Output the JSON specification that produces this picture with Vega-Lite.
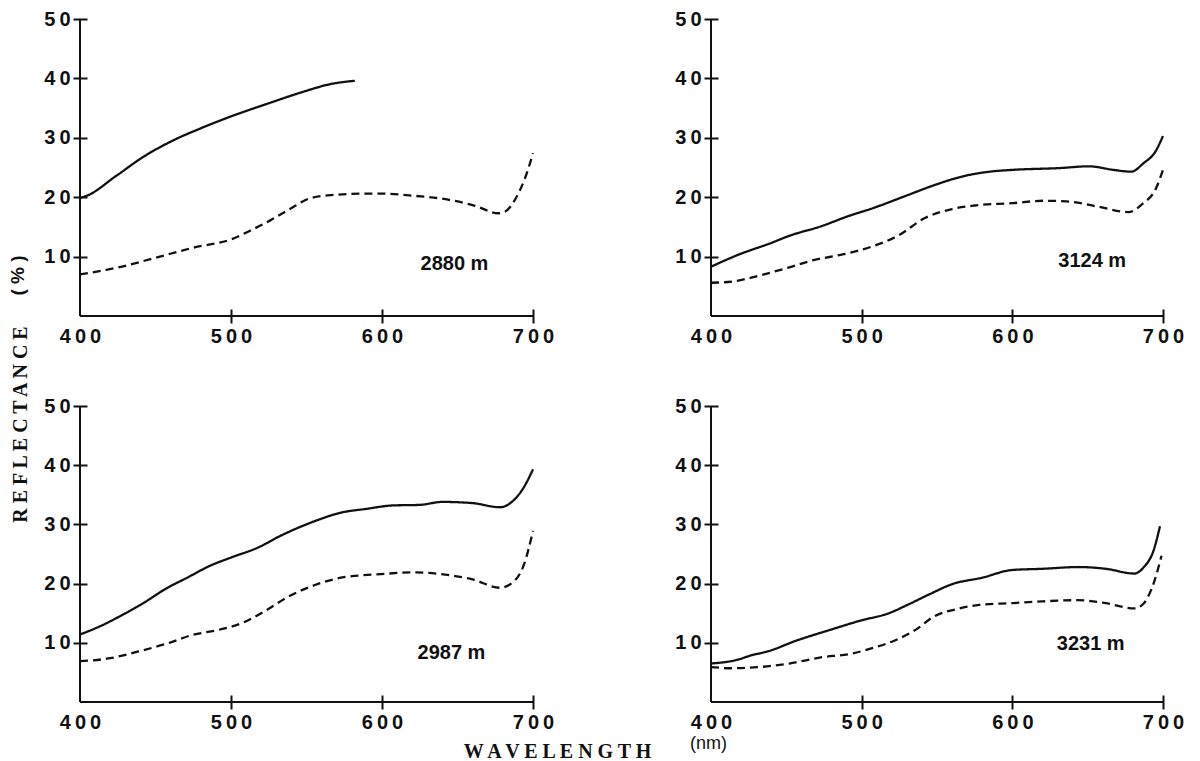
{
  "$schema": "https://vega.github.io/schema/vega-lite/v6.json",
  "background": "white",
  "padding": {"left": 8, "top": 9, "right": 5, "bottom": 5},
  "datasets": {
    "labels": [
      {"depth": "2880 m"}, {"depth": "3124 m"}, {"depth": "2987 m"}, {"depth": "3231 m"}
    ],
    "spectra": [
      {"depth": "2880 m", "curve": "A", "wavelength": 400, "reflectance": 19.9},
      {"depth": "2880 m", "curve": "A", "wavelength": 404, "reflectance": 20.2},
      {"depth": "2880 m", "curve": "A", "wavelength": 424, "reflectance": 23.6},
      {"depth": "2880 m", "curve": "A", "wavelength": 442, "reflectance": 26.8},
      {"depth": "2880 m", "curve": "A", "wavelength": 462, "reflectance": 29.6},
      {"depth": "2880 m", "curve": "A", "wavelength": 480, "reflectance": 31.6},
      {"depth": "2880 m", "curve": "A", "wavelength": 500, "reflectance": 33.6},
      {"depth": "2880 m", "curve": "A", "wavelength": 526, "reflectance": 35.9},
      {"depth": "2880 m", "curve": "A", "wavelength": 546, "reflectance": 37.6},
      {"depth": "2880 m", "curve": "A", "wavelength": 567, "reflectance": 39.1},
      {"depth": "2880 m", "curve": "A", "wavelength": 582, "reflectance": 39.6},
      {"depth": "2880 m", "curve": "B", "wavelength": 400, "reflectance": 7.0},
      {"depth": "2880 m", "curve": "B", "wavelength": 424, "reflectance": 8.1},
      {"depth": "2880 m", "curve": "B", "wavelength": 450, "reflectance": 9.8},
      {"depth": "2880 m", "curve": "B", "wavelength": 475, "reflectance": 11.5},
      {"depth": "2880 m", "curve": "B", "wavelength": 500, "reflectance": 12.9},
      {"depth": "2880 m", "curve": "B", "wavelength": 513, "reflectance": 14.4},
      {"depth": "2880 m", "curve": "B", "wavelength": 526, "reflectance": 16.1},
      {"depth": "2880 m", "curve": "B", "wavelength": 539, "reflectance": 18.0},
      {"depth": "2880 m", "curve": "B", "wavelength": 551, "reflectance": 19.7},
      {"depth": "2880 m", "curve": "B", "wavelength": 564, "reflectance": 20.3},
      {"depth": "2880 m", "curve": "B", "wavelength": 590, "reflectance": 20.6},
      {"depth": "2880 m", "curve": "B", "wavelength": 600, "reflectance": 20.6},
      {"depth": "2880 m", "curve": "B", "wavelength": 618, "reflectance": 20.3},
      {"depth": "2880 m", "curve": "B", "wavelength": 641, "reflectance": 19.7},
      {"depth": "2880 m", "curve": "B", "wavelength": 661, "reflectance": 18.6},
      {"depth": "2880 m", "curve": "B", "wavelength": 677, "reflectance": 17.3},
      {"depth": "2880 m", "curve": "B", "wavelength": 681, "reflectance": 17.5},
      {"depth": "2880 m", "curve": "B", "wavelength": 689, "reflectance": 20.0},
      {"depth": "2880 m", "curve": "B", "wavelength": 695, "reflectance": 23.4},
      {"depth": "2880 m", "curve": "B", "wavelength": 700, "reflectance": 27.4},

      {"depth": "3124 m", "curve": "A", "wavelength": 400, "reflectance": 8.3},
      {"depth": "3124 m", "curve": "A", "wavelength": 419, "reflectance": 10.4},
      {"depth": "3124 m", "curve": "A", "wavelength": 440, "reflectance": 12.3},
      {"depth": "3124 m", "curve": "A", "wavelength": 452, "reflectance": 13.5},
      {"depth": "3124 m", "curve": "A", "wavelength": 473, "reflectance": 15.1},
      {"depth": "3124 m", "curve": "A", "wavelength": 491, "reflectance": 16.8},
      {"depth": "3124 m", "curve": "A", "wavelength": 508, "reflectance": 18.2},
      {"depth": "3124 m", "curve": "A", "wavelength": 529, "reflectance": 20.2},
      {"depth": "3124 m", "curve": "A", "wavelength": 549, "reflectance": 22.1},
      {"depth": "3124 m", "curve": "A", "wavelength": 567, "reflectance": 23.5},
      {"depth": "3124 m", "curve": "A", "wavelength": 585, "reflectance": 24.3},
      {"depth": "3124 m", "curve": "A", "wavelength": 600, "reflectance": 24.6},
      {"depth": "3124 m", "curve": "A", "wavelength": 631, "reflectance": 24.9},
      {"depth": "3124 m", "curve": "A", "wavelength": 651, "reflectance": 25.2},
      {"depth": "3124 m", "curve": "A", "wavelength": 667, "reflectance": 24.6},
      {"depth": "3124 m", "curve": "A", "wavelength": 679, "reflectance": 24.3},
      {"depth": "3124 m", "curve": "A", "wavelength": 687, "reflectance": 25.7},
      {"depth": "3124 m", "curve": "A", "wavelength": 695, "reflectance": 27.7},
      {"depth": "3124 m", "curve": "A", "wavelength": 700, "reflectance": 30.3},
      {"depth": "3124 m", "curve": "B", "wavelength": 400, "reflectance": 5.6},
      {"depth": "3124 m", "curve": "B", "wavelength": 414, "reflectance": 5.8},
      {"depth": "3124 m", "curve": "B", "wavelength": 432, "reflectance": 6.8},
      {"depth": "3124 m", "curve": "B", "wavelength": 452, "reflectance": 8.2},
      {"depth": "3124 m", "curve": "B", "wavelength": 468, "reflectance": 9.4},
      {"depth": "3124 m", "curve": "B", "wavelength": 488, "reflectance": 10.4},
      {"depth": "3124 m", "curve": "B", "wavelength": 508, "reflectance": 11.8},
      {"depth": "3124 m", "curve": "B", "wavelength": 524, "reflectance": 13.5},
      {"depth": "3124 m", "curve": "B", "wavelength": 542, "reflectance": 16.5},
      {"depth": "3124 m", "curve": "B", "wavelength": 560, "reflectance": 18.0},
      {"depth": "3124 m", "curve": "B", "wavelength": 575, "reflectance": 18.6},
      {"depth": "3124 m", "curve": "B", "wavelength": 600, "reflectance": 19.0},
      {"depth": "3124 m", "curve": "B", "wavelength": 621, "reflectance": 19.4},
      {"depth": "3124 m", "curve": "B", "wavelength": 636, "reflectance": 19.3},
      {"depth": "3124 m", "curve": "B", "wavelength": 657, "reflectance": 18.4},
      {"depth": "3124 m", "curve": "B", "wavelength": 677, "reflectance": 17.5},
      {"depth": "3124 m", "curve": "B", "wavelength": 687, "reflectance": 19.0},
      {"depth": "3124 m", "curve": "B", "wavelength": 695, "reflectance": 21.3},
      {"depth": "3124 m", "curve": "B", "wavelength": 700, "reflectance": 24.6},

      {"depth": "2987 m", "curve": "A", "wavelength": 400, "reflectance": 11.4},
      {"depth": "2987 m", "curve": "A", "wavelength": 415, "reflectance": 13.0},
      {"depth": "2987 m", "curve": "A", "wavelength": 428, "reflectance": 14.7},
      {"depth": "2987 m", "curve": "A", "wavelength": 440, "reflectance": 16.4},
      {"depth": "2987 m", "curve": "A", "wavelength": 458, "reflectance": 19.3},
      {"depth": "2987 m", "curve": "A", "wavelength": 471, "reflectance": 21.0},
      {"depth": "2987 m", "curve": "A", "wavelength": 486, "reflectance": 23.0},
      {"depth": "2987 m", "curve": "A", "wavelength": 500, "reflectance": 24.4},
      {"depth": "2987 m", "curve": "A", "wavelength": 518, "reflectance": 26.1},
      {"depth": "2987 m", "curve": "A", "wavelength": 533, "reflectance": 28.1},
      {"depth": "2987 m", "curve": "A", "wavelength": 556, "reflectance": 30.6},
      {"depth": "2987 m", "curve": "A", "wavelength": 573, "reflectance": 32.0},
      {"depth": "2987 m", "curve": "A", "wavelength": 589, "reflectance": 32.6},
      {"depth": "2987 m", "curve": "A", "wavelength": 607, "reflectance": 33.2},
      {"depth": "2987 m", "curve": "A", "wavelength": 625, "reflectance": 33.3},
      {"depth": "2987 m", "curve": "A", "wavelength": 640, "reflectance": 33.8},
      {"depth": "2987 m", "curve": "A", "wavelength": 660, "reflectance": 33.6},
      {"depth": "2987 m", "curve": "A", "wavelength": 678, "reflectance": 32.9},
      {"depth": "2987 m", "curve": "A", "wavelength": 686, "reflectance": 33.8},
      {"depth": "2987 m", "curve": "A", "wavelength": 694, "reflectance": 36.3},
      {"depth": "2987 m", "curve": "A", "wavelength": 700, "reflectance": 39.3},
      {"depth": "2987 m", "curve": "B", "wavelength": 400, "reflectance": 6.9},
      {"depth": "2987 m", "curve": "B", "wavelength": 420, "reflectance": 7.4},
      {"depth": "2987 m", "curve": "B", "wavelength": 438, "reflectance": 8.5},
      {"depth": "2987 m", "curve": "B", "wavelength": 458, "reflectance": 9.9},
      {"depth": "2987 m", "curve": "B", "wavelength": 474, "reflectance": 11.3},
      {"depth": "2987 m", "curve": "B", "wavelength": 492, "reflectance": 12.2},
      {"depth": "2987 m", "curve": "B", "wavelength": 507, "reflectance": 13.3},
      {"depth": "2987 m", "curve": "B", "wavelength": 522, "reflectance": 15.3},
      {"depth": "2987 m", "curve": "B", "wavelength": 538, "reflectance": 17.8},
      {"depth": "2987 m", "curve": "B", "wavelength": 556, "reflectance": 19.8},
      {"depth": "2987 m", "curve": "B", "wavelength": 573, "reflectance": 21.0},
      {"depth": "2987 m", "curve": "B", "wavelength": 599, "reflectance": 21.6},
      {"depth": "2987 m", "curve": "B", "wavelength": 622, "reflectance": 21.9},
      {"depth": "2987 m", "curve": "B", "wavelength": 642, "reflectance": 21.5},
      {"depth": "2987 m", "curve": "B", "wavelength": 660, "reflectance": 20.7},
      {"depth": "2987 m", "curve": "B", "wavelength": 678, "reflectance": 19.3},
      {"depth": "2987 m", "curve": "B", "wavelength": 686, "reflectance": 20.1},
      {"depth": "2987 m", "curve": "B", "wavelength": 694, "reflectance": 23.2},
      {"depth": "2987 m", "curve": "B", "wavelength": 700, "reflectance": 28.9},

      {"depth": "3231 m", "curve": "A", "wavelength": 400, "reflectance": 6.5},
      {"depth": "3231 m", "curve": "A", "wavelength": 417, "reflectance": 7.1},
      {"depth": "3231 m", "curve": "A", "wavelength": 427, "reflectance": 7.9},
      {"depth": "3231 m", "curve": "A", "wavelength": 437, "reflectance": 8.5},
      {"depth": "3231 m", "curve": "A", "wavelength": 457, "reflectance": 10.4},
      {"depth": "3231 m", "curve": "A", "wavelength": 478, "reflectance": 12.1},
      {"depth": "3231 m", "curve": "A", "wavelength": 500, "reflectance": 13.8},
      {"depth": "3231 m", "curve": "A", "wavelength": 517, "reflectance": 14.9},
      {"depth": "3231 m", "curve": "A", "wavelength": 532, "reflectance": 16.6},
      {"depth": "3231 m", "curve": "A", "wavelength": 545, "reflectance": 18.2},
      {"depth": "3231 m", "curve": "A", "wavelength": 560, "reflectance": 19.9},
      {"depth": "3231 m", "curve": "A", "wavelength": 580, "reflectance": 21.0},
      {"depth": "3231 m", "curve": "A", "wavelength": 600, "reflectance": 22.3},
      {"depth": "3231 m", "curve": "A", "wavelength": 620, "reflectance": 22.5},
      {"depth": "3231 m", "curve": "A", "wavelength": 644, "reflectance": 22.8},
      {"depth": "3231 m", "curve": "A", "wavelength": 662, "reflectance": 22.5},
      {"depth": "3231 m", "curve": "A", "wavelength": 681, "reflectance": 21.7},
      {"depth": "3231 m", "curve": "A", "wavelength": 687, "reflectance": 22.7},
      {"depth": "3231 m", "curve": "A", "wavelength": 694, "reflectance": 25.8},
      {"depth": "3231 m", "curve": "A", "wavelength": 698, "reflectance": 29.7},
      {"depth": "3231 m", "curve": "B", "wavelength": 400, "reflectance": 5.9},
      {"depth": "3231 m", "curve": "B", "wavelength": 414, "reflectance": 5.7},
      {"depth": "3231 m", "curve": "B", "wavelength": 432, "reflectance": 5.9},
      {"depth": "3231 m", "curve": "B", "wavelength": 452, "reflectance": 6.5},
      {"depth": "3231 m", "curve": "B", "wavelength": 472, "reflectance": 7.5},
      {"depth": "3231 m", "curve": "B", "wavelength": 494, "reflectance": 8.2},
      {"depth": "3231 m", "curve": "B", "wavelength": 507, "reflectance": 9.1},
      {"depth": "3231 m", "curve": "B", "wavelength": 522, "reflectance": 10.4},
      {"depth": "3231 m", "curve": "B", "wavelength": 537, "reflectance": 12.4},
      {"depth": "3231 m", "curve": "B", "wavelength": 547, "reflectance": 14.3},
      {"depth": "3231 m", "curve": "B", "wavelength": 563, "reflectance": 15.7},
      {"depth": "3231 m", "curve": "B", "wavelength": 578, "reflectance": 16.4},
      {"depth": "3231 m", "curve": "B", "wavelength": 600, "reflectance": 16.7},
      {"depth": "3231 m", "curve": "B", "wavelength": 620, "reflectance": 17.0},
      {"depth": "3231 m", "curve": "B", "wavelength": 643, "reflectance": 17.2},
      {"depth": "3231 m", "curve": "B", "wavelength": 662, "reflectance": 16.7},
      {"depth": "3231 m", "curve": "B", "wavelength": 681, "reflectance": 15.8},
      {"depth": "3231 m", "curve": "B", "wavelength": 687, "reflectance": 16.6},
      {"depth": "3231 m", "curve": "B", "wavelength": 694, "reflectance": 20.2},
      {"depth": "3231 m", "curve": "B", "wavelength": 699, "reflectance": 24.7}
    ]
  },
  "config": {
    "view": {"stroke": null},
    "axis": {
      "domain": false, "grid": false, "ticks": true,
      "tickColor": "#111", "tickWidth": 2, "tickSize": 14, "offset": -7,
      "labelFont": "Liberation Sans", "labelFontWeight": "bold", "labelFontSize": 20,
      "labelColor": "#111", "labelPadding": 3, "labelFlush": false, "labelOverlap": false,
      "labelExpr": "join(split(datum.label, ''), '\u2009')",
      "titleColor": "#111"
    },
    "axisX": {"tickOpacity": {"condition": {"test": "datum.value == 400", "value": 0}, "value": 1}},
    "line": {"interpolate": "monotone", "color": "#111", "strokeWidth": 2.3},
    "rule": {"color": "#111", "strokeWidth": 2},
    "text": {"font": "Liberation Sans", "fontWeight": "bold", "fontSize": 20, "color": "#111", "align": "center", "baseline": "middle"}
  },
  "bounds": "flush",
  "columns": 2,
  "spacing": {"row": 90, "column": 178},
  "concat": [
    {
      "width": 453, "height": 297,
      "layer": [
        {
          "data": {"name": "spectra"},
          "transform": [{"filter": {"field": "depth", "equal": "2880 m"}}],
          "mark": "line",
          "encoding": {
            "x": {"field": "wavelength", "type": "quantitative", "scale": {"domain": [400, 700], "nice": false},
                  "axis": {"title": null, "values": [400, 500, 600, 700]}},
            "y": {"field": "reflectance", "type": "quantitative", "scale": {"domain": [0, 50], "nice": false},
                  "axis": {"title": "( % )", "values": [10, 20, 30, 40, 50], "titleFont": "Liberation Sans", "titleFontWeight": "bold", "titleFontSize": 19, "titleX": -70, "titleY": 256, "titleAngle": -90, "titleAlign": "center", "titleBaseline": "middle"}},
            "strokeDash": {"field": "curve", "type": "nominal", "scale": {"domain": ["A", "B"], "range": [[1, 0], [8, 5]]}, "legend": null}
          }
        },
        {"data": {"name": "labels"}, "transform": [{"filter": {"field": "depth", "equal": "2880 m"}}], "mark": "rule", "encoding": {"y": {"datum": 0}}},
        {"data": {"name": "labels"}, "transform": [{"filter": {"field": "depth", "equal": "2880 m"}}], "mark": "rule", "encoding": {"x": {"datum": 400}}},
        {"data": {"name": "labels"}, "transform": [{"filter": {"field": "depth", "equal": "2880 m"}}], "mark": "text",
         "encoding": {"x": {"datum": 648}, "y": {"datum": 8.8}, "text": {"field": "depth"}}}
      ]
    },
    {
      "width": 452, "height": 297,
      "layer": [
        {
          "data": {"name": "spectra"},
          "transform": [{"filter": {"field": "depth", "equal": "3124 m"}}],
          "mark": "line",
          "encoding": {
            "x": {"field": "wavelength", "type": "quantitative", "scale": {"domain": [400, 700], "nice": false},
                  "axis": {"title": null, "values": [400, 500, 600, 700]}},
            "y": {"field": "reflectance", "type": "quantitative", "scale": {"domain": [0, 50], "nice": false},
                  "axis": {"title": null, "values": [10, 20, 30, 40, 50]}},
            "strokeDash": {"field": "curve", "type": "nominal", "scale": {"domain": ["A", "B"], "range": [[1, 0], [8, 5]]}, "legend": null}
          }
        },
        {"data": {"name": "labels"}, "transform": [{"filter": {"field": "depth", "equal": "3124 m"}}], "mark": "rule", "encoding": {"y": {"datum": 0}}},
        {"data": {"name": "labels"}, "transform": [{"filter": {"field": "depth", "equal": "3124 m"}}], "mark": "rule", "encoding": {"x": {"datum": 400}}},
        {"data": {"name": "labels"}, "transform": [{"filter": {"field": "depth", "equal": "3124 m"}}], "mark": "text",
         "encoding": {"x": {"datum": 653}, "y": {"datum": 9.3}, "text": {"field": "depth"}}}
      ]
    },
    {
      "width": 453, "height": 296,
      "layer": [
        {
          "data": {"name": "spectra"},
          "transform": [{"filter": {"field": "depth", "equal": "2987 m"}}],
          "mark": "line",
          "encoding": {
            "x": {"field": "wavelength", "type": "quantitative", "scale": {"domain": [400, 700], "nice": false},
                  "axis": {"title": "W A V E L E N G T H", "values": [400, 500, 600, 700],
                           "titleFont": "Liberation Serif", "titleFontWeight": "bold", "titleFontSize": 20, "titleX": 477, "titleY": 62, "titleAlign": "center", "titleBaseline": "alphabetic"}},
            "y": {"field": "reflectance", "type": "quantitative", "scale": {"domain": [0, 50], "nice": false},
                  "axis": {"title": "R E F L E C T A N C E", "values": [10, 20, 30, 40, 50], "titleFont": "Liberation Serif", "titleFontWeight": "bold", "titleFontSize": 20, "titleX": -67, "titleY": 18, "titleAngle": -90, "titleAlign": "center", "titleBaseline": "middle"}},
            "strokeDash": {"field": "curve", "type": "nominal", "scale": {"domain": ["A", "B"], "range": [[1, 0], [8, 5]]}, "legend": null}
          }
        },
        {"data": {"name": "labels"}, "transform": [{"filter": {"field": "depth", "equal": "2987 m"}}], "mark": "rule", "encoding": {"y": {"datum": 0}}},
        {"data": {"name": "labels"}, "transform": [{"filter": {"field": "depth", "equal": "2987 m"}}], "mark": "rule", "encoding": {"x": {"datum": 400}}},
        {"data": {"name": "labels"}, "transform": [{"filter": {"field": "depth", "equal": "2987 m"}}], "mark": "text",
         "encoding": {"x": {"datum": 646}, "y": {"datum": 8.3}, "text": {"field": "depth"}}}
      ]
    },
    {
      "width": 452, "height": 296,
      "layer": [
        {
          "data": {"name": "spectra"},
          "transform": [{"filter": {"field": "depth", "equal": "3231 m"}}],
          "mark": "line",
          "encoding": {
            "x": {"field": "wavelength", "type": "quantitative", "scale": {"domain": [400, 700], "nice": false},
                  "axis": {"title": "(nm)", "values": [400, 500, 600, 700],
                           "titleFont": "Liberation Sans", "titleFontWeight": "normal", "titleFontSize": 18, "titleX": -3, "titleY": 53, "titleAlign": "center", "titleBaseline": "alphabetic"}},
            "y": {"field": "reflectance", "type": "quantitative", "scale": {"domain": [0, 50], "nice": false},
                  "axis": {"title": null, "values": [10, 20, 30, 40, 50]}},
            "strokeDash": {"field": "curve", "type": "nominal", "scale": {"domain": ["A", "B"], "range": [[1, 0], [8, 5]]}, "legend": null}
          }
        },
        {"data": {"name": "labels"}, "transform": [{"filter": {"field": "depth", "equal": "3231 m"}}], "mark": "rule", "encoding": {"y": {"datum": 0}}},
        {"data": {"name": "labels"}, "transform": [{"filter": {"field": "depth", "equal": "3231 m"}}], "mark": "rule", "encoding": {"x": {"datum": 400}}},
        {"data": {"name": "labels"}, "transform": [{"filter": {"field": "depth", "equal": "3231 m"}}], "mark": "text",
         "encoding": {"x": {"datum": 652}, "y": {"datum": 9.8}, "text": {"field": "depth"}}}
      ]
    }
  ]
}
